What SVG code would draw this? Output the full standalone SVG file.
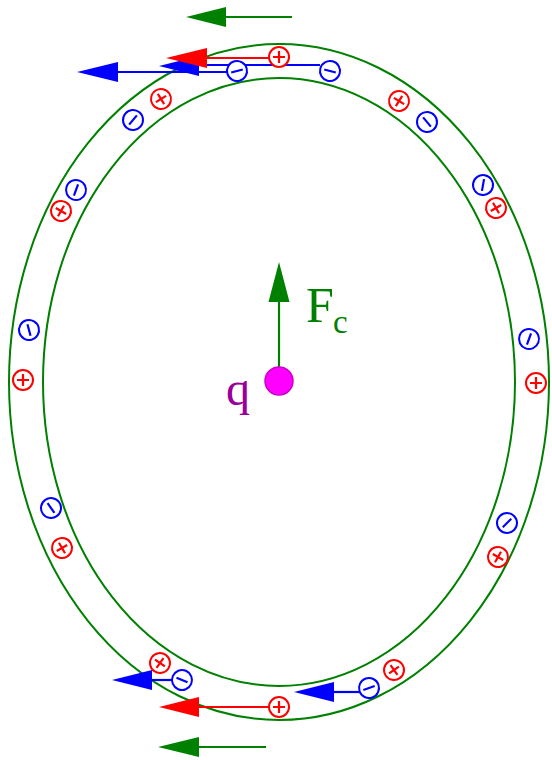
<svg xmlns="http://www.w3.org/2000/svg" width="552" height="760" viewBox="0 0 552 760">
<style>
.ring{fill:none;stroke:#008000;stroke-width:2}
.pc{fill:#fff;stroke:#ff0000;stroke-width:2}
.ps{stroke:#ff0000;stroke-width:2.2;fill:none}
.mc{fill:#fff;stroke:#0000ff;stroke-width:2}
.ms{stroke:#0000ff;stroke-width:2.2;fill:none}
.gl{stroke:#008000;stroke-width:2.2}
.rl{stroke:#ff0000;stroke-width:2.2}
.bl{stroke:#0000ff;stroke-width:2.2}
</style>
<defs>
<g id="plus"><circle class="pc" r="10"/><path class="ps" d="M-6,0H6M0,-6V6"/></g>
<g id="minus"><circle class="mc" r="10"/><path class="ms" d="M-6,0H6"/></g>
</defs>
<rect width="552" height="760" fill="#fff"/>
<g id="outer-ring"><ellipse class="ring" cx="279" cy="382" rx="270" ry="338"/></g>
<g id="inner-ring"><ellipse class="ring" cx="279" cy="382" rx="236" ry="304"/></g>
<g id="connectors">
<line class="gl" x1="292" y1="17" x2="224" y2="17"/>
<polygon fill="#008000" points="186,17 226,7 226,27"/>
<line class="gl" x1="266" y1="747" x2="197" y2="747"/>
<polygon fill="#008000" points="158,747 199,737 199,757"/>
<line class="bl" x1="320" y1="65" x2="197" y2="65"/>
<polygon fill="#0000ff" points="159,66 199,56 199,76"/>
<line class="bl" x1="227" y1="72" x2="116" y2="72"/>
<polygon fill="#0000ff" points="77,72 118,62 118,82"/>
<line class="rl" x1="269" y1="58" x2="205" y2="58"/>
<polygon fill="#ff0000" points="166,58 207,48 207,68"/>
<line class="bl" x1="172" y1="680" x2="150" y2="680"/>
<polygon fill="#0000ff" points="112,680 152,670 152,690"/>
<line class="rl" x1="269" y1="707" x2="197" y2="707"/>
<polygon fill="#ff0000" points="159,707 199,697 199,717"/>
<line class="bl" x1="360" y1="692" x2="332" y2="692"/>
<polygon fill="#0000ff" points="294,692 334,682 334,702"/>
<line class="gl" x1="279" y1="368" x2="279" y2="298"/>
<polygon fill="#008000" points="279,262 268.5,302 289.5,302"/>
</g>
<g id="charges">
<use href="#plus" transform="translate(279,57)"/>
<use href="#minus" transform="translate(237,71) rotate(-15)"/>
<use href="#minus" transform="translate(330,71) rotate(15)"/>
<use href="#plus" transform="translate(161,99) rotate(-32)"/>
<use href="#minus" transform="translate(133,120) rotate(-50)"/>
<use href="#plus" transform="translate(399,101) rotate(32)"/>
<use href="#minus" transform="translate(427,122) rotate(50)"/>
<use href="#minus" transform="translate(76,190) rotate(-70)"/>
<use href="#plus" transform="translate(61,211) rotate(30)"/>
<use href="#minus" transform="translate(483,185) rotate(-80)"/>
<use href="#plus" transform="translate(496,208) rotate(-30)"/>
<use href="#minus" transform="translate(29,330) rotate(75)"/>
<use href="#plus" transform="translate(23,380)"/>
<use href="#minus" transform="translate(529,339) rotate(-70)"/>
<use href="#plus" transform="translate(536,383)"/>
<use href="#minus" transform="translate(51,508) rotate(55)"/>
<use href="#plus" transform="translate(62,548) rotate(-30)"/>
<use href="#minus" transform="translate(507,523) rotate(-45)"/>
<use href="#plus" transform="translate(498,557) rotate(30)"/>
<use href="#plus" transform="translate(160,663) rotate(35)"/>
<use href="#minus" transform="translate(182,680) rotate(23)"/>
<use href="#plus" transform="translate(279,707)"/>
<use href="#minus" transform="translate(369,688) rotate(-19)"/>
<use href="#plus" transform="translate(394,670) rotate(-35)"/>
</g>
<g id="charge-q">
<circle cx="279" cy="381" r="14" fill="#ff00ff" stroke="#cc00cc" stroke-width="1.5"/>
<text x="226" y="405" font-family="Liberation Serif, serif" font-size="48" fill="#990099">q</text>
</g>
<g id="label-fc">
<text x="306" y="322" font-family="Liberation Serif, serif" font-size="50" fill="#008000">F</text>
<text x="333" y="333" font-family="Liberation Serif, serif" font-size="33" fill="#008000">c</text>
</g>
</svg>
